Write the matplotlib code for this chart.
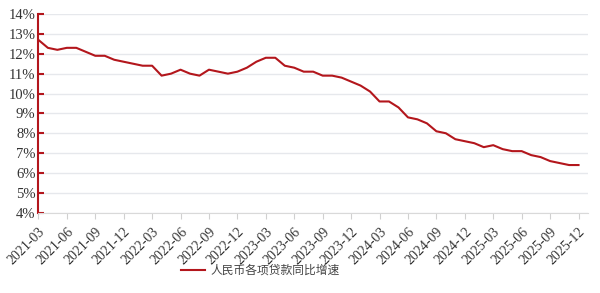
import numpy as np
import matplotlib
matplotlib.use('Agg')
import matplotlib.pyplot as plt

# monthly data, 2021-03 .. 2025-12
months = []
for y in range(2021, 2026):
	for m in range(1, 13):
		if (y == 2021 and m < 3):
			continue
		months.append('%d-%02d' % (y, m))

loan_growth = [12.7, 12.3, 12.2, 12.3, 12.3, 12.1, 11.9, 11.9, 11.7, 11.6,
			   11.5, 11.4, 11.4, 10.9, 11.0, 11.2, 11.0, 10.9, 11.2, 11.1, 11.0, 11.1,
			   11.3, 11.6, 11.8, 11.8, 11.4, 11.3, 11.1, 11.1, 10.9, 10.9, 10.8, 10.6,
			   10.4, 10.1, 9.6, 9.6, 9.3, 8.8, 8.7, 8.5, 8.1, 8.0, 7.7, 7.6,
			   7.5, 7.3, 7.4, 7.2, 7.1, 7.1, 6.9, 6.8, 6.6, 6.5, 6.4, 6.4]
series_name = '人民币各项贷款同比增速'

red = '#b3161c'
serif = ['Liberation Serif', 'DejaVu Serif']

fig = plt.figure(figsize=(6.0, 2.93), dpi=100)
ax = fig.add_axes([0.064, 0.274, 0.916, 0.678])

x = np.arange(len(months))
ax.plot(x, loan_growth, color=red, lw=1.5, label=series_name)

ax.set_ylim(4, 14)
ax.set_xlim(0, 58)
yt = np.arange(4, 15)
ax.set_yticks(yt)
ax.set_yticklabels(['%d%%' % v for v in yt], fontfamily=serif, fontsize=10.5, color='#333333')
ax.yaxis.grid(True, color='#e6e8ec', lw=1.0)
ax.set_axisbelow(True)

xt = x[::3]
ax.set_xticks(xt)
ax.set_xticklabels([months[i] for i in xt], rotation=45, ha='right', va='top',
				   rotation_mode='anchor', fontfamily=serif, fontsize=10, color='#333333')

for s in ['top', 'right']:
	ax.spines[s].set_visible(False)
ax.spines['left'].set_color(red)
ax.spines['left'].set_linewidth(1.5)
ax.spines['bottom'].set_color('#d9d9d9')
ax.tick_params(axis='y', direction='in', length=4, width=1.5, color=red, pad=2)
ax.tick_params(axis='x', direction='out', length=4, width=0.8, color='#d0d0d0', pad=5)

fig.legend(loc='center', bbox_to_anchor=(0.434, 0.078), frameon=False,
		   handlelength=2.0, handletextpad=0.5,
		   prop={'family': ['Noto Sans CJK SC', 'DejaVu Sans'], 'size': 8.5},
		   labelcolor='#444444')

fig.savefig('out.png', dpi=100, facecolor='white')
